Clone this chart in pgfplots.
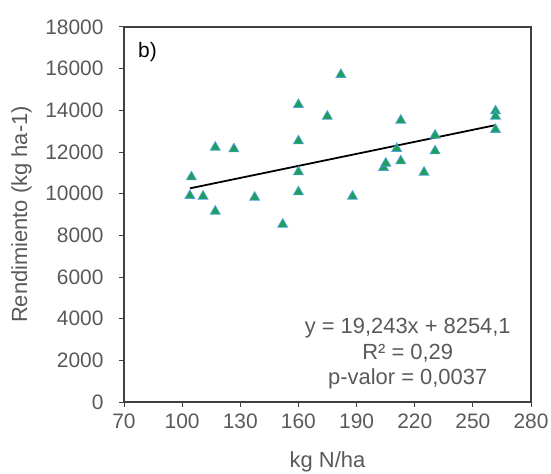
\documentclass[border=0pt]{standalone}
\usepackage{pgfplots}
\pgfplotsset{compat=1.18}
\usepackage{fontspec}
\setmainfont{Liberation Sans}
\definecolor{txt}{HTML}{595959}
\definecolor{mfill}{HTML}{1E9E5A}
\definecolor{medge}{HTML}{4FA3DE}
\begin{document}
\begin{tikzpicture}[x=1bp,y=1bp]
\begin{axis}[
  scale only axis,
  width=407bp, height=375bp,
  xmin=70, xmax=280, ymin=0, ymax=18000,
  xtick={70,100,...,280},
  ytick={0,2000,...,18000},
  scaled ticks=false,
  axis line style={draw=black!75, line width=1.2pt},
  tick style={draw=black!75, line width=1pt},
  tick align=outside,
  major tick length=5bp,
  xtick pos=bottom, ytick pos=left,
  /pgf/number format/1000 sep={},
  /pgf/number format/assume math mode=true,
  ticklabel style={font=\fontsize{21}{24}\selectfont, text=txt},
  yticklabel style={xshift=-12bp},
  xticklabel style={yshift=-3bp},
  label style={font=\fontsize{22}{26}\selectfont, text=txt},
  xlabel={kg N/ha},
  ylabel={Rendimiento (kg ha-1)},
  xlabel style={at={(axis description cs:0.5,-0.16)}, anchor=center},
  ylabel style={at={(axis description cs:-0.252,0.5)}, anchor=center},
  clip=false,
]
\addplot[only marks, mark=triangle*, mark size=5.8pt,
  mark options={fill=mfill, draw=medge, line width=0.7pt}] coordinates {
(104.8,10800) (104,9904) (110.8,9872) (117.1,12224) (117.1,9152)
(126.7,12144) (137.4,9824) (151.9,8528) (160,14272) (160,12528)
(160,11040) (160,10080) (174.9,13712) (181.9,15712) (187.9,9872)
(203.9,11248) (205.1,11456) (210.7,12160) (212.8,13520) (212.8,11568)
(224.8,11024) (230.5,12800) (230.5,12048) (261.7,13968) (261.7,13712)
(261.7,13072)
};
\addplot[black, line width=1.8pt] coordinates {(104,10255.4) (261.7,13290.0)};
\node[font=\fontsize{22}{26}\selectfont, text=txt, anchor=base] at (axis cs:216.4,3283) {y = 19,243x + 8254,1};
\node[font=\fontsize{22}{26}\selectfont, text=txt, anchor=base] at (axis cs:216.4,2050) {R² = 0,29};
\node[font=\fontsize{22}{26}\selectfont, text=txt, anchor=base] at (axis cs:216.4,850) {p-valor = 0,0037};
\node[font=\fontsize{21}{24}\selectfont, text=black, anchor=base west, inner sep=0pt] at (axis cs:77.2,16546) {b)};
\end{axis}
\pgfresetboundingbox
\path ([xshift=-124bp,yshift=-72bp]current axis.south west) rectangle ([xshift=20bp,yshift=27bp]current axis.north east);
\end{tikzpicture}
\end{document}
